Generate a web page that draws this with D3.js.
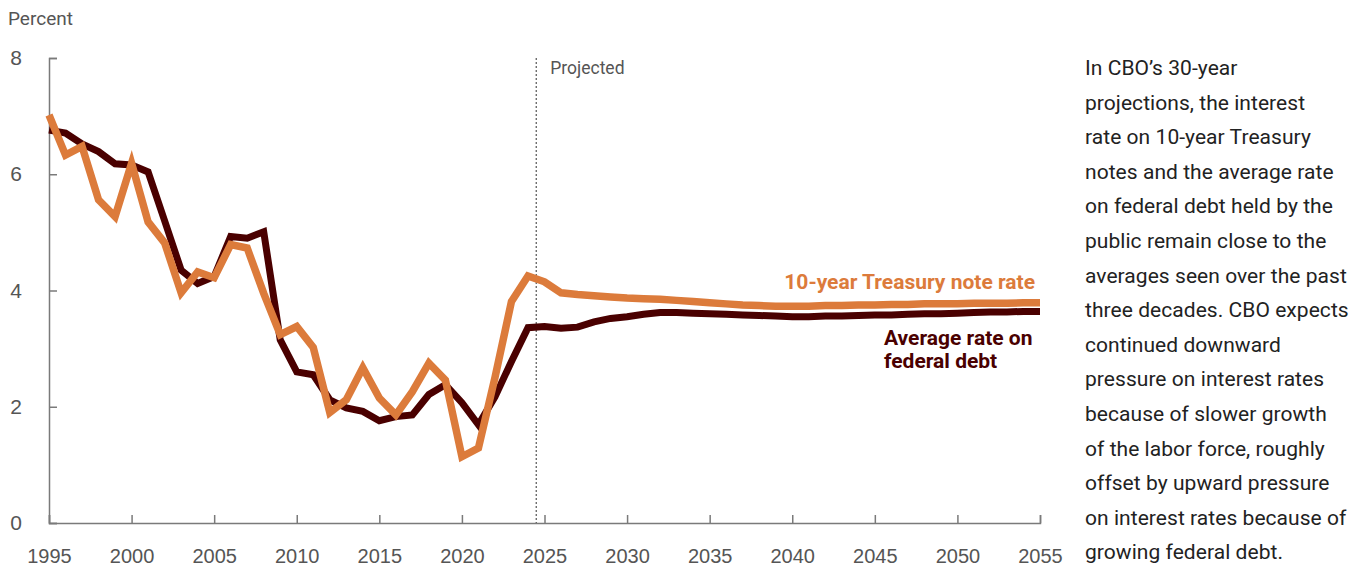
<!DOCTYPE html>
<html>
<head>
<meta charset="utf-8">
<script src="https://cdn.jsdelivr.net/npm/d3@7"></script>
<style>
  body { margin: 0; background: #fff; }
  svg { display: block; font-family: Roboto, "Noto Sans", sans-serif; }
</style>
</head>
<body>
<div id="chart"></div>
<script>
//Datos
const years = d3.range(1995, 2056);

const avgRate = [6.76, 6.71, 6.52, 6.39, 6.18, 6.16, 6.04, 5.20, 4.35, 4.12,
  4.24, 4.93, 4.90, 5.01, 3.15, 2.60, 2.55, 2.12, 1.98, 1.92,
  1.76, 1.83, 1.86, 2.21, 2.38, 2.07, 1.69, 2.17, 2.78, 3.36,
  3.38, 3.35, 3.37, 3.46, 3.52, 3.55, 3.59, 3.62, 3.62, 3.61,
  3.60, 3.59, 3.58, 3.57, 3.56, 3.55, 3.55, 3.56, 3.56, 3.57,
  3.58, 3.58, 3.59, 3.60, 3.60, 3.61, 3.62, 3.63, 3.63, 3.64, 3.64];

const treasuryRate = [7.02, 6.33, 6.48, 5.56, 5.27, 6.19, 5.18, 4.82, 3.96, 4.32,
  4.22, 4.79, 4.73, 3.95, 3.24, 3.38, 3.02, 1.90, 2.12, 2.67,
  2.15, 1.86, 2.26, 2.75, 2.46, 1.14, 1.29, 2.50, 3.81, 4.25,
  4.15, 3.96, 3.93, 3.91, 3.89, 3.87, 3.86, 3.85, 3.83, 3.81,
  3.79, 3.77, 3.75, 3.74, 3.73, 3.73, 3.73, 3.74, 3.74, 3.75,
  3.75, 3.76, 3.76, 3.77, 3.77, 3.77, 3.78, 3.78, 3.78, 3.79, 3.79];

const xTicks = [1995, 2000, 2005, 2010, 2015, 2020, 2025, 2030, 2035, 2040, 2045, 2050, 2055];
const yTicks = [0, 2, 4, 6, 8];
const projectedStart = 2024.5;

const noteLines = [
  'In CBO\u2019s 30-year',
  'projections, the interest',
  'rate on 10-year Treasury',
  'notes and the average rate',
  'on federal debt held by the',
  'public remain close to the',
  'averages seen over the past',
  'three decades. CBO expects',
  'continued downward',
  'pressure on interest rates',
  'because of slower growth',
  'of the labor force, roughly',
  'offset by upward pressure',
  'on interest rates because of',
  'growing federal debt.'
];

//Colores
const COLOR_TREASURY = '#DC7B3B',
  COLOR_AVG = '#4A0000',
  COLOR_AXIS = '#7a7a7a',
  COLOR_TEXT = '#555555';

const W = 1361, H = 571;

const svg = d3.select('#chart').append('svg')
  .attr('width', W)
  .attr('height', H);

const x = d3.scaleLinear().domain([1995, 2055]).range([49, 1040]);
const y = d3.scaleLinear().domain([0, 8]).range([523, 58]);

//Eje Y
const yAxis = svg.append('g')
  .attr('transform', 'translate(' + x(1995) + ',0)')
  .call(d3.axisRight(y).tickValues(yTicks).tickSize(8).tickFormat(d3.format('d')));
yAxis.select('.domain').attr('stroke', COLOR_AXIS).attr('stroke-width', 1.5);
yAxis.selectAll('.tick line').attr('stroke', COLOR_AXIS).attr('stroke-width', 1.5);
yAxis.selectAll('.tick text')
  .attr('x', -27)
  .attr('text-anchor', 'end')
  .attr('fill', COLOR_TEXT)
  .style('font-size', '21px');

//Eje X
const xAxis = svg.append('g')
  .attr('transform', 'translate(0,' + y(0) + ')')
  .call(d3.axisTop(x).tickValues(xTicks).tickSize(8).tickFormat(d3.format('d')));
xAxis.select('.domain').attr('stroke', COLOR_AXIS).attr('stroke-width', 1.5);
xAxis.selectAll('.tick line').attr('stroke', COLOR_AXIS).attr('stroke-width', 1.5);
xAxis.selectAll('.tick text')
  .attr('y', 40)
  .attr('dy', 0)
  .attr('fill', COLOR_TEXT)
  .style('font-size', '20px');

svg.append('text')
  .attr('x', 8)
  .attr('y', 25)
  .attr('fill', COLOR_TEXT)
  .style('font-size', '19px')
  .text('Percent');

//Línea de proyección
svg.append('line')
  .attr('x1', x(projectedStart)).attr('x2', x(projectedStart))
  .attr('y1', y(8)).attr('y2', y(0))
  .attr('stroke', '#555')
  .attr('stroke-width', 1.2)
  .attr('stroke-dasharray', '2,2');

svg.append('text')
  .attr('x', x(projectedStart) + 14)
  .attr('y', 74)
  .attr('fill', COLOR_TEXT)
  .style('font-size', '17.5px')
  .text('Projected');

//Líneas
const line = d3.line()
  .x(function(d) { return x(d[0]); })
  .y(function(d) { return y(d[1]); });

svg.append('path')
  .datum(years.map(function(yr, i) { return [yr, avgRate[i]]; }))
  .attr('fill', 'none')
  .attr('stroke', COLOR_AVG)
  .attr('stroke-width', 7)
  .attr('d', line);

svg.append('path')
  .datum(years.map(function(yr, i) { return [yr, treasuryRate[i]]; }))
  .attr('fill', 'none')
  .attr('stroke', COLOR_TREASURY)
  .attr('stroke-width', 7.5)
  .attr('d', line);

//Etiquetas de las series
svg.append('text')
  .attr('x', 1035)
  .attr('y', 289)
  .attr('text-anchor', 'end')
  .attr('fill', COLOR_TREASURY)
  .style('font-size', '21px')
  .style('font-weight', 'bold')
  .text('10-year Treasury note rate');

svg.append('text')
  .attr('x', 884)
  .attr('y', 345)
  .attr('fill', COLOR_AVG)
  .style('font-size', '21px')
  .style('font-weight', 'bold')
  .selectAll('tspan')
  .data(['Average rate on', 'federal debt'])
  .enter()
  .append('tspan')
  .attr('x', 884)
  .attr('dy', function(d, i) { return i === 0 ? 0 : 23; })
  .text(function(d) { return d; });

//Texto lateral
svg.append('text')
  .attr('x', 1085)
  .attr('y', 75)
  .attr('fill', '#222')
  .style('font-size', '21px')
  .style('letter-spacing', '0.05px')
  .selectAll('tspan')
  .data(noteLines)
  .enter()
  .append('tspan')
  .attr('x', 1085)
  .attr('dy', function(d, i) { return i === 0 ? 0 : 34.6; })
  .text(function(d) { return d; });
</script>
</body>
</html>
